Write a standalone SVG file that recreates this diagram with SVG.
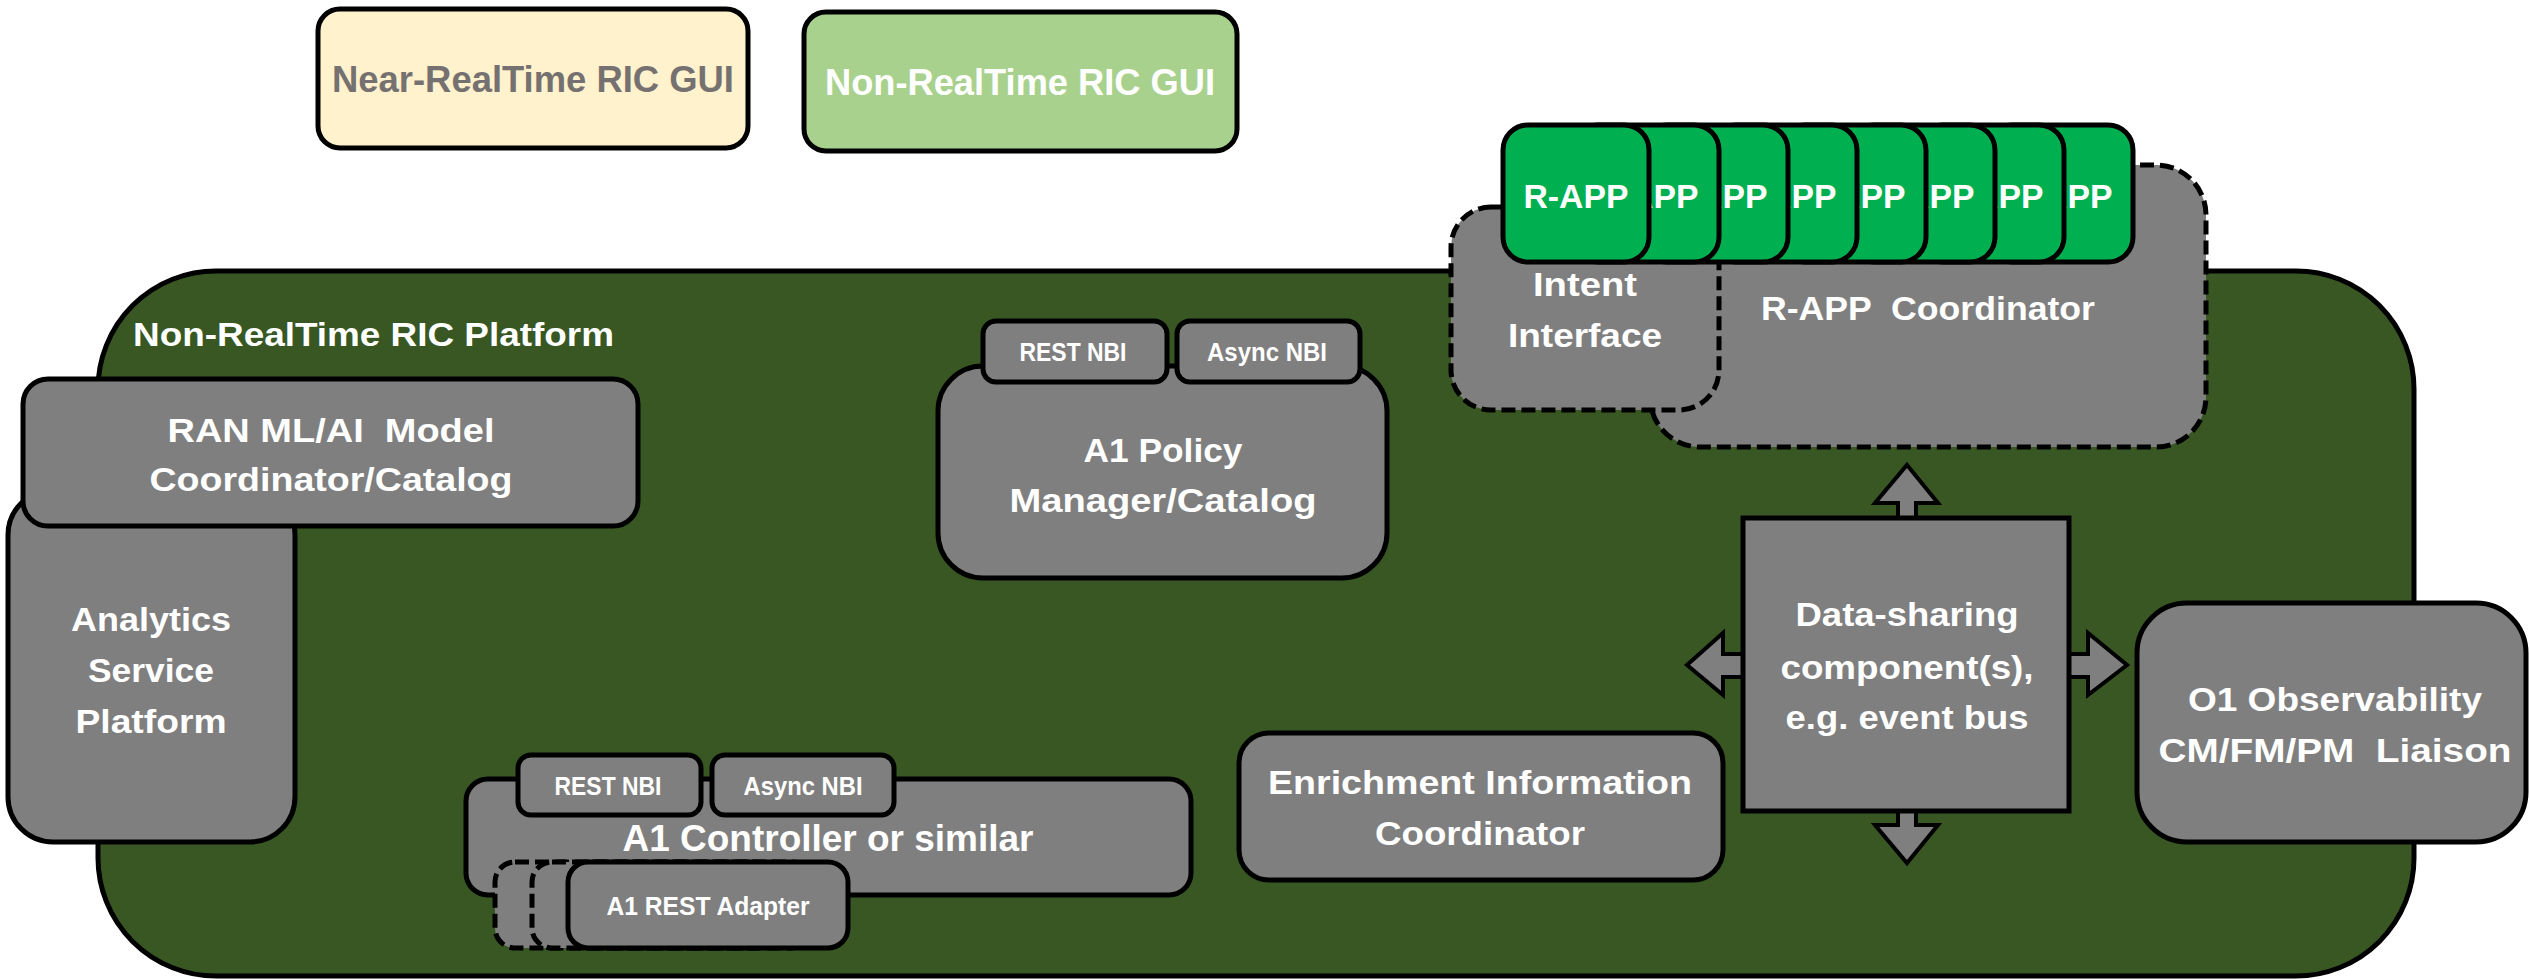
<svg xmlns="http://www.w3.org/2000/svg" width="2529" height="979" viewBox="0 0 2529 979">
<style>
.box{fill:#7F7F7F;stroke:#000;stroke-width:5}
.dash{fill:#7F7F7F;stroke:#000;stroke-width:5;stroke-dasharray:14 6}
.app{fill:#00B050;stroke:#000;stroke-width:5}
.arr{fill:#7F7F7F;stroke:#000;stroke-width:4;stroke-linejoin:miter}
.t{font-family:"Liberation Sans",Arial,sans-serif;font-weight:bold;fill:#fff;text-anchor:middle;font-size:34px}
.s{font-size:25px}
.l{text-anchor:start}
</style>
<rect width="2529" height="979" fill="#fff"/>
<g id="near-rt-gui">
<rect x="318" y="9" width="430" height="139" rx="22" fill="#FFF2CC" stroke="#000" stroke-width="5"/>
<text class="t" x="533" y="92" style="font-size:36px;fill:#767171" textLength="402" lengthAdjust="spacingAndGlyphs">Near-RealTime RIC GUI</text>
</g>
<g id="non-rt-gui">
<rect x="804" y="12" width="433" height="139" rx="22" fill="#A9D18E" stroke="#000" stroke-width="5"/>
<text class="t" x="1020" y="95" style="font-size:36px" textLength="390" lengthAdjust="spacingAndGlyphs">Non-RealTime RIC GUI</text>
</g>
<g id="platform">
<rect x="98" y="271" width="2316" height="705" rx="118" fill="#385723" stroke="#000" stroke-width="5"/>
<text class="t l" x="133" y="346" textLength="481" lengthAdjust="spacingAndGlyphs">Non-RealTime RIC Platform</text>
</g>
<g id="analytics">
<rect class="box" x="8" y="490" width="287" height="352" rx="45"/>
<text class="t" x="151" y="631" textLength="160" lengthAdjust="spacingAndGlyphs">Analytics</text>
<text class="t" x="151" y="682" textLength="126" lengthAdjust="spacingAndGlyphs">Service</text>
<text class="t" x="151" y="733" textLength="151" lengthAdjust="spacingAndGlyphs">Platform</text>
</g>
<g id="ran-model">
<rect class="box" x="23" y="379" width="615" height="147" rx="25"/>
<text class="t" x="331" y="442" textLength="327" lengthAdjust="spacingAndGlyphs" xml:space="preserve">RAN ML/AI  Model</text>
<text class="t" x="331" y="491" textLength="363" lengthAdjust="spacingAndGlyphs">Coordinator/Catalog</text>
</g>
<g id="a1-policy">
<rect class="box" x="938" y="366" width="449" height="212" rx="45"/>
<text class="t" x="1163" y="462" textLength="159" lengthAdjust="spacingAndGlyphs">A1 Policy</text>
<text class="t" x="1163" y="512" textLength="307" lengthAdjust="spacingAndGlyphs">Manager/Catalog</text>
</g>
<g id="a1-policy-rest-nbi">
<rect class="box" x="983" y="321" width="184" height="61" rx="13"/>
<text class="t s" x="1073" y="361" textLength="107" lengthAdjust="spacingAndGlyphs">REST NBI</text>
</g>
<g id="a1-policy-async-nbi">
<rect class="box" x="1177" y="321" width="183" height="61" rx="13"/>
<text class="t s" x="1267" y="361" textLength="120" lengthAdjust="spacingAndGlyphs">Async NBI</text>
</g>
<g id="rapp-coordinator">
<rect class="dash" x="1650" y="165" width="556" height="282" rx="50"/>
<text class="t" x="1928" y="320" textLength="334" lengthAdjust="spacingAndGlyphs" xml:space="preserve">R-APP  Coordinator</text>
</g>
<g id="intent-interface">
<rect class="dash" x="1451" y="207" width="268" height="203" rx="40"/>
<text class="t" x="1585" y="296" textLength="104" lengthAdjust="spacingAndGlyphs">Intent</text>
<text class="t" x="1585" y="347" textLength="154" lengthAdjust="spacingAndGlyphs">Interface</text>
</g>
<g id="rapps">
<g id="rapp-8"><rect class="app" x="1987" y="125" width="146" height="137" rx="25"/><text class="t" x="2060" y="208" textLength="105" lengthAdjust="spacingAndGlyphs">R-APP</text></g>
<g id="rapp-7"><rect class="app" x="1918" y="125" width="146" height="137" rx="25"/><text class="t" x="1991" y="208" textLength="105" lengthAdjust="spacingAndGlyphs">R-APP</text></g>
<g id="rapp-6"><rect class="app" x="1849" y="125" width="146" height="137" rx="25"/><text class="t" x="1922" y="208" textLength="105" lengthAdjust="spacingAndGlyphs">R-APP</text></g>
<g id="rapp-5"><rect class="app" x="1780" y="125" width="146" height="137" rx="25"/><text class="t" x="1853" y="208" textLength="105" lengthAdjust="spacingAndGlyphs">R-APP</text></g>
<g id="rapp-4"><rect class="app" x="1711" y="125" width="146" height="137" rx="25"/><text class="t" x="1784" y="208" textLength="105" lengthAdjust="spacingAndGlyphs">R-APP</text></g>
<g id="rapp-3"><rect class="app" x="1642" y="125" width="146" height="137" rx="25"/><text class="t" x="1715" y="208" textLength="105" lengthAdjust="spacingAndGlyphs">R-APP</text></g>
<g id="rapp-2"><rect class="app" x="1573" y="125" width="146" height="137" rx="25"/><text class="t" x="1646" y="208" textLength="105" lengthAdjust="spacingAndGlyphs">R-APP</text></g>
<g id="rapp-1"><rect class="app" x="1503" y="125" width="146" height="137" rx="25"/><text class="t" x="1576" y="208" textLength="105" lengthAdjust="spacingAndGlyphs">R-APP</text></g>
</g>
<g id="connectors">
<polygon class="arr" points="1907,465 1938,503 1916,503 1916,825 1938,825 1907,863 1875,825 1898,825 1898,503 1875,503"/>
<polygon class="arr" points="1687,665 1723,633 1723,654 2088,654 2088,633 2127,665 2088,695 2088,677 1723,677 1723,695"/>
</g>
<g id="data-sharing">
<rect class="box" x="1743" y="518" width="326" height="293"/>
<text class="t" x="1907" y="626" textLength="223" lengthAdjust="spacingAndGlyphs">Data-sharing</text>
<text class="t" x="1907" y="679" textLength="253" lengthAdjust="spacingAndGlyphs">component(s),</text>
<text class="t" x="1907" y="729" textLength="243" lengthAdjust="spacingAndGlyphs">e.g. event bus</text>
</g>
<g id="o1-liaison">
<rect class="box" x="2137" y="603" width="389" height="239" rx="50"/>
<text class="t" x="2335" y="711" textLength="294" lengthAdjust="spacingAndGlyphs">O1 Observability</text>
<text class="t" x="2335" y="762" textLength="353" lengthAdjust="spacingAndGlyphs" xml:space="preserve">CM/FM/PM  Liaison</text>
</g>
<g id="enrichment">
<rect class="box" x="1239" y="733" width="484" height="147" rx="30"/>
<text class="t" x="1480" y="794" textLength="424" lengthAdjust="spacingAndGlyphs">Enrichment Information</text>
<text class="t" x="1480" y="845" textLength="210" lengthAdjust="spacingAndGlyphs">Coordinator</text>
</g>
<g id="a1-controller">
<rect class="box" x="466" y="779" width="725" height="116" rx="22"/>
<text class="t" x="828" y="851" style="font-size:36px" textLength="411" lengthAdjust="spacingAndGlyphs">A1 Controller or similar</text>
</g>
<g id="a1-controller-rest-nbi">
<rect class="box" x="518" y="755" width="183" height="60" rx="13"/>
<text class="t s" x="608" y="795" textLength="107" lengthAdjust="spacingAndGlyphs">REST NBI</text>
</g>
<g id="a1-controller-async-nbi">
<rect class="box" x="712" y="755" width="182" height="60" rx="13"/>
<text class="t s" x="803" y="795" textLength="119" lengthAdjust="spacingAndGlyphs">Async NBI</text>
</g>
<g id="a1-rest-adapter">
<rect class="dash" x="495" y="862" width="280" height="86" rx="20"/>
<rect class="dash" x="532" y="862" width="280" height="86" rx="20"/>
<rect class="box" x="568" y="862" width="280" height="86" rx="20"/>
<text class="t s" x="708" y="915" textLength="203" lengthAdjust="spacingAndGlyphs">A1 REST Adapter</text>
</g>
</svg>
